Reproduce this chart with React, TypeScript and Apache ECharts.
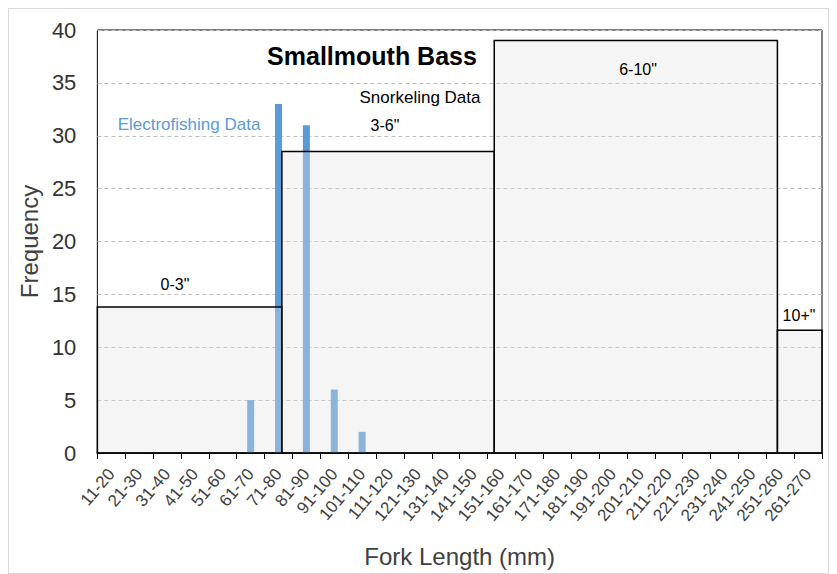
import React, { useEffect, useRef } from "react";
import * as echarts from "echarts";

const categories = [
  "11-20", "21-30", "31-40", "41-50", "51-60", "61-70", "71-80", "81-90", "91-100",
  "101-110", "111-120", "121-130", "131-140", "141-150", "151-160", "161-170",
  "171-180", "181-190", "191-200", "201-210", "211-220", "221-230", "231-240",
  "241-250", "251-260", "261-270",
];
const electrofishing = [0, 0, 0, 0, 0, 5, 33, 31, 6, 2, 0, 0, 0, 0, 0, 0, 0, 0, 0, 0, 0, 0, 0, 0, 0, 0];

// Snorkeling size classes (fork length in mm): start, end, frequency
const snorkelClasses = ['0-3"', '3-6"', '6-10"', '10+"'];
const snorkelStart = [10, 76.2, 152.4, 254];
const snorkelEnd = [76.2, 152.4, 254, 270];
const snorkelFreq = [13.8, 28.5, 39, 11.6];

const FONT = "'Liberation Sans', Arial, sans-serif";

export default function App() {
  const ref = useRef<HTMLDivElement>(null);
  useEffect(() => {
    if (!ref.current) return;
    const chart = echarts.init(ref.current, null, { renderer: "svg" });
    const boxData = snorkelStart.map((s, i) => [s, snorkelEnd[i], snorkelFreq[i], snorkelClasses[i]]);
    const off = 9;
    const txt = (text: string, x: number, y: number, size: number, color: string, weight = "normal") => ({
      type: "text",
      x: x - off,
      y: y - off,
      z: 100,
      style: {
        text,
        x: 0,
        y: 0,
        fill: color,
        font: `${weight} ${size}px ${FONT}`,
        textAlign: "center",
        textVerticalAlign: "middle",
      },
    });
    chart.setOption({
      animation: false,
      textStyle: { fontFamily: FONT },
      grid: {
        left: 87,
        top: 21,
        width: 726,
        height: 424,
        show: true,
        borderColor: "#000",
        borderWidth: 1,
        backgroundColor: "transparent",
      },
      xAxis: [
        {
          type: "category",
          data: categories,
          boundaryGap: true,
          axisLine: { show: true, lineStyle: { color: "#000", width: 1.5 } },
          axisTick: { show: true, length: 6, interval: 0, lineStyle: { color: "#000", width: 1 } },
          axisLabel: {
            interval: 0,
            rotate: 50,
            fontSize: 17,
            color: "#404040",
            margin: 18,
            fontFamily: FONT,
          },
          splitLine: { show: false },
          name: "Fork Length (mm)",
          nameLocation: "middle",
          nameGap: 91,
          nameTextStyle: { fontSize: 24, color: "#404040", fontFamily: FONT },
        },
        {
          type: "value",
          min: 10,
          max: 270,
          show: false,
          position: "bottom",
          splitLine: { show: false },
        },
      ],
      yAxis: {
        type: "value",
        min: 0,
        max: 40,
        interval: 5,
        axisLine: { show: false },
        axisTick: { show: false },
        axisLabel: { fontSize: 22, color: "#333", margin: 21, fontFamily: FONT },
        splitLine: { show: true, lineStyle: { color: "#bfbfbf", type: [4, 3], width: 1 } },
        name: "Frequency",
        nameLocation: "middle",
        nameGap: 55,
        nameTextStyle: { fontSize: 24, color: "#404040", fontFamily: FONT },
      },
      series: [
        {
          name: "Electrofishing Data",
          type: "bar",
          xAxisIndex: 0,
          data: electrofishing,
          barWidth: 7,
          itemStyle: { color: "#5b9bd5" },
          z: 2,
        },
        {
          name: "Snorkeling Data",
          type: "custom",
          xAxisIndex: 1,
          yAxisIndex: 0,
          z: 3,
          data: boxData,
          encode: { x: [0, 1], y: 2 },
          renderItem: (params: any, api: any) => {
            const x0 = api.value(0);
            const x1 = api.value(1);
            const h = api.value(2);
            const p0 = api.coord([x0, 0]);
            const p1 = api.coord([x1, h]);
            return {
              type: "rect",
              shape: { x: p0[0], y: p1[1], width: p1[0] - p0[0], height: p0[1] - p1[1] },
              style: { fill: "rgba(225,225,225,0.35)", stroke: "#000", lineWidth: 1.5 },
            };
          },
        },
      ],
      graphic: [
        txt("Smallmouth Bass", 372, 56, 25, "#000", "bold"),
        txt("Snorkeling Data", 420, 97, 17, "#000"),
        txt("Electrofishing Data", 189, 124, 17, "#5b9bd5"),
        txt(snorkelClasses[0], 175, 284, 16, "#000"),
        txt(snorkelClasses[1], 385, 125, 16, "#000"),
        txt(snorkelClasses[2], 638, 69, 16, "#000"),
        txt(snorkelClasses[3], 799, 315, 16, "#000"),
      ],
    });
    return () => chart.dispose();
  }, []);
  return (
    <div
      style={{
        width: 821,
        height: 566,
        border: "1px solid #d9d9d9",
        boxSizing: "border-box",
        background: "#fff",
      }}
    >
      <div ref={ref} style={{ width: 819, height: 564 }} />
    </div>
  );
}
